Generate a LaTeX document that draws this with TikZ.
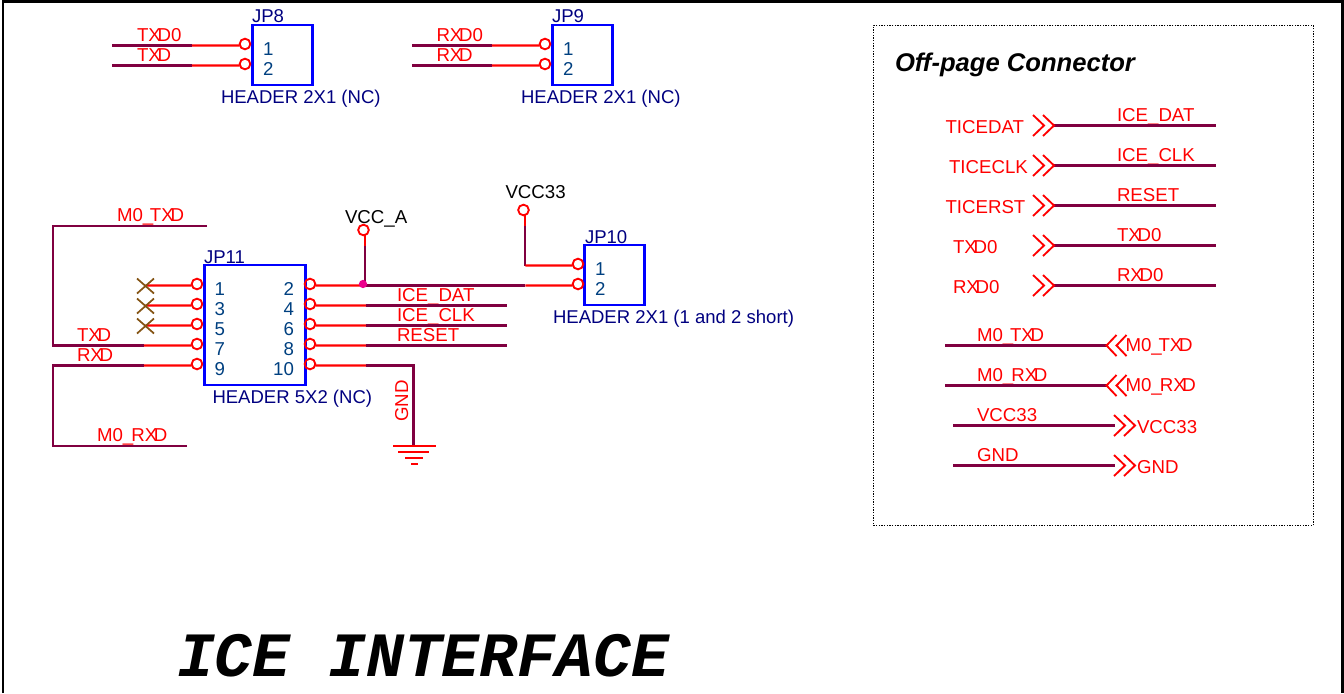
\documentclass[tikz,border=0pt]{standalone}
\usepackage{fontspec}
\usepackage{xcolor}
\setmainfont{Liberation Sans}
\newfontfamily\titlefont{Liberation Mono}
\usetikzlibrary{calc}
\definecolor{wirered}{RGB}{255, 0, 0}
\definecolor{wiredark}{RGB}{128, 0, 64}
\definecolor{partblue}{RGB}{0, 0, 255}
\definecolor{partnavy}{RGB}{0, 0, 128}
\definecolor{pinblue}{RGB}{0, 64, 128}
\definecolor{nomark}{RGB}{132, 84, 20}
\newcommand{\xd}{X\kern-2.5pt D}
\newcommand{\mtx}{M0\_\kern-2.5pt T\xd}
\newcommand{\mrx}{M0\_\kern-1.5pt R\xd}
\tikzset{
    sch/.style={font=\fontsize{14}{15}\selectfont, inner sep=0pt, outer sep=0pt, anchor=base west},
    netname/.style={sch, text=wirered},
    powername/.style={sch, text=black},
    partname/.style={sch, font=\fontsize{13.9}{15}\selectfont, text=partnavy},
    pinnum/.style={sch, text=pinblue},
    pinnumr/.style={pinnum, anchor=base east},
    partbox/.style={draw=partblue, line width=1.6pt, inner sep=0pt, outer sep=0pt, anchor=north west},
    pinhole/.style={circle, draw=wirered, line width=1.4pt, minimum size=8pt, inner sep=0pt, outer sep=0pt},
    stub/.style={draw=wirered, line width=1.6pt},
    bus/.style={draw=wiredark, line width=1.6pt},
    nc/.style={draw=nomark, line width=1.3pt},
    arrowsright/.pic={
        \draw[wirered, line width=1.4pt] (-21,-10.5) -- (-10,0) -- (-21,10.5);
        \draw[wirered, line width=1.4pt] (-11,-10.5) -- (0,0) -- (-11,10.5);
    },
    arrowsleft/.pic={
        \draw[wirered, line width=1.4pt] (10,-10.5) -- (0,0) -- (10,10.5);
        \draw[wirered, line width=1.4pt] (20,-10.5) -- (10,0) -- (20,10.5);
    },
    holeleft/.style={yshift=-1.1pt},
    holeright/.style={yshift=-1.1pt}
}

\begin{document}
\begin{tikzpicture}[x=0.75pt, y=-0.75pt]
    \useasboundingbox (0,0) rectangle (1344,693);
    % sheet frame
    \draw[black, line width=1.8pt] (3,693) -- (3,1.3) -- (1342.5,1.3) -- (1342.5,693);

    % JP8
    \node[partbox, minimum width=45pt, minimum height=45pt] (jp8box) at (252.5,25) {};
    \node[partname] (jp8name) at (252,22.5) {JP8};
    \node[partname] (jp8val) at (221,103) {HEADER 2X1 (NC)};
    \node[pinnum] (jp8n1) at (263,55) {1};
    \node[pinnum] (jp8n2) at (263,75) {2};
    \node[pinhole] (jp8a) at (245,44) {};
    \node[pinhole] (jp8b) at (245,64) {};
    \node[netname] (txdzero) at (137,41) {T\xd 0};
    \node[netname] (txdtop) at (137,61) {T\xd};
    \coordinate (jp8aend) at (112,45.5);
    \coordinate (jp8asplit) at (192,45.5);
    \coordinate (jp8bend) at (112,65.5);
    \coordinate (jp8bsplit) at (192,65.5);
    \draw[bus] (jp8aend) -- (jp8asplit);
    \draw[stub] (jp8asplit) -- ([holeleft]jp8a.west);
    \draw[bus] (jp8bend) -- (jp8bsplit);
    \draw[stub] (jp8bsplit) -- ([holeleft]jp8b.west);

    % JP9
    \node[partbox, minimum width=45pt, minimum height=45pt] (jp9box) at (552.5,25) {};
    \node[partname] (jp9name) at (552,22.5) {JP9};
    \node[partname] (jp9val) at (521,103) {HEADER 2X1 (NC)};
    \node[pinnum] (jp9n1) at (563,55) {1};
    \node[pinnum] (jp9n2) at (563,75) {2};
    \node[pinhole] (jp9a) at (545,44) {};
    \node[pinhole] (jp9b) at (545,64) {};
    \node[netname] (rxdzero) at (436.5,41) {R\xd 0};
    \node[netname] (rxdtop) at (436.5,61) {R\xd};
    \coordinate (jp9aend) at (412,45.5);
    \coordinate (jp9asplit) at (492,45.5);
    \coordinate (jp9bend) at (412,65.5);
    \coordinate (jp9bsplit) at (492,65.5);
    \draw[bus] (jp9aend) -- (jp9asplit);
    \draw[stub] (jp9asplit) -- ([holeleft]jp9a.west);
    \draw[bus] (jp9bend) -- (jp9bsplit);
    \draw[stub] (jp9bsplit) -- ([holeleft]jp9b.west);

    % JP11
    \node[partbox, minimum width=75.75pt, minimum height=90pt] (jp11box) at (204.5,265) {};
    \node[partname] (jp11name) at (204,263) {JP11};
    \node[partname] (jp11val) at (212.5,403) {HEADER 5X2 (NC)};
    \node[pinnum] (jp11n1) at (214.5,295) {1};
    \node[pinnum] (jp11n3) at (214.5,315) {3};
    \node[pinnum] (jp11n5) at (214.5,335) {5};
    \node[pinnum] (jp11n7) at (214.5,355) {7};
    \node[pinnum] (jp11n9) at (214.5,375) {9};
    \node[pinnumr] (jp11n2) at (294,295) {2};
    \node[pinnumr] (jp11n4) at (294,315) {4};
    \node[pinnumr] (jp11n6) at (294,335) {6};
    \node[pinnumr] (jp11n8) at (294,355) {8};
    \node[pinnumr] (jp11n10) at (294,375) {10};
    \node[pinhole] (pinone) at (197,284) {};
    \node[pinhole] (pinthree) at (197,304) {};
    \node[pinhole] (pinfive) at (197,324) {};
    \node[pinhole] (pinseven) at (197,344) {};
    \node[pinhole] (pinnine) at (197,364) {};
    \node[pinhole] (pintwo) at (310,284) {};
    \node[pinhole] (pinfour) at (310,304) {};
    \node[pinhole] (pinsix) at (310,324) {};
    \node[pinhole] (pineight) at (310,344) {};
    \node[pinhole] (pinten) at (310,364) {};

    % not connected pins
    \coordinate (ncone) at (145.5,285.5);
    \coordinate (ncthree) at (145.5,305.5);
    \coordinate (ncfive) at (145.5,325.5);
    \draw[stub] (ncone) -- ([holeleft]pinone.west);
    \draw[stub] (ncthree) -- ([holeleft]pinthree.west);
    \draw[stub] (ncfive) -- ([holeleft]pinfive.west);
    \draw[nc] ($(ncone)+(-8.5,-7)$) -- ($(ncone)+(8.5,8)$) ($(ncone)+(-8.5,8)$) -- ($(ncone)+(8.5,-7)$);
    \draw[nc] ($(ncthree)+(-8.5,-7)$) -- ($(ncthree)+(8.5,8)$) ($(ncthree)+(-8.5,8)$) -- ($(ncthree)+(8.5,-7)$);
    \draw[nc] ($(ncfive)+(-8.5,-7)$) -- ($(ncfive)+(8.5,8)$) ($(ncfive)+(-8.5,8)$) -- ($(ncfive)+(8.5,-7)$);

    % left side nets
    \node[netname] (mtxdtop) at (117,221.5) {\mtx};
    \node[netname] (txdlow) at (77,341) {T\xd};
    \node[netname] (rxdlow) at (77,361) {R\xd};
    \node[netname] (mrxdlow) at (97,441) {\mrx};
    \coordinate (mtxdend) at (207,226);
    \coordinate (mtxdcorner) at (53,226);
    \coordinate (txdcorner) at (53,345.5);
    \coordinate (txdsplit) at (144,345.5);
    \coordinate (rxdsplit) at (144,365.5);
    \coordinate (rxdcorner) at (53,365.5);
    \coordinate (mrxdcorner) at (53,446);
    \coordinate (mrxdend) at (187,446);
    \draw[bus] (mtxdend) -- (mtxdcorner) -- (txdcorner) -- (txdsplit);
    \draw[stub] (txdsplit) -- ([holeleft]pinseven.west);
    \draw[bus] (mrxdend) -- (mrxdcorner) -- (rxdcorner) -- (rxdsplit);
    \draw[stub] (rxdsplit) -- ([holeleft]pinnine.west);

    % right side nets
    \node[netname] (dattop) at (397,301) {ICE\_DAT};
    \node[netname] (clktop) at (397,321) {ICE\_CLK};
    \node[netname] (rsttop) at (397,341) {RESET};
    \coordinate (fourbus) at (366,305.5);
    \coordinate (fourend) at (507,305.5);
    \coordinate (sixbus) at (366,325.5);
    \coordinate (sixend) at (507,325.5);
    \coordinate (eightbus) at (366,345.5);
    \coordinate (eightend) at (507,345.5);
    \coordinate (tenbus) at (366,365.5);
    \coordinate (tencorner) at (413.5,365.5);
    \coordinate (twobus) at (364,285.5);
    \coordinate (twosplit) at (525.4,285.5);
    \draw[stub] ([holeright]pintwo.east) -- (twobus);
    \draw[stub] ([holeright]pinfour.east) -- (fourbus);
    \draw[bus] (fourbus) -- (fourend);
    \draw[stub] ([holeright]pinsix.east) -- (sixbus);
    \draw[bus] (sixbus) -- (sixend);
    \draw[stub] ([holeright]pineight.east) -- (eightbus);
    \draw[bus] (eightbus) -- (eightend);
    \draw[stub] ([holeright]pinten.east) -- (tenbus);

    % ground
    \node[netname, rotate=90, anchor=base] (gndlabel) at (408,401) {GND};
    \coordinate (gndtop) at (413.5,446);
    \coordinate (gndaa) at (393,446);
    \coordinate (gndab) at (436,446);
    \coordinate (gndba) at (398,452);
    \coordinate (gndbb) at (429,452);
    \coordinate (gndca) at (405,458);
    \coordinate (gndcb) at (423,458);
    \coordinate (gndda) at (411,464);
    \coordinate (gnddb) at (418,464);
    \draw[bus] (tenbus) -- (tencorner) -- (gndtop);
    \draw[stub, line width=1.3pt] (gndaa) -- (gndab);
    \draw[stub, line width=1.3pt] (gndba) -- (gndbb);
    \draw[stub, line width=1.3pt] (gndca) -- (gndcb);
    \draw[stub, line width=1.3pt] (gndda) -- (gnddb);

    % JP10 and the supplies
    \node[partbox, minimum width=45pt, minimum height=45pt] (jp10box) at (584.5,245) {};
    \node[partname] (jp10name) at (585,243) {JP10};
    \node[partname] (jp10val) at (553,323) {HEADER 2X1 (1 and 2 short)};
    \node[pinnum] (jp10n1) at (595,275) {1};
    \node[pinnum] (jp10n2) at (595,295) {2};
    \node[pinhole] (jp10a) at (578,264) {};
    \node[pinhole] (jp10b) at (578,284) {};
    \node[powername] (vccaname) at (345,223) {VCC\_A};
    \node[pinhole] (vcca) at (363.5,230) {};
    \node[powername] (vccname) at (505.5,198.5) {VCC33};
    \node[pinhole] (vcc) at (523.5,210) {};
    \coordinate (vccastart) at (365.4,235);
    \coordinate (vccasplit) at (365.4,246);
    \coordinate (vccajoin) at (365.4,285.5);
    \coordinate (vccstart) at (525.4,215);
    \coordinate (vccsplit) at (525.4,226);
    \coordinate (vcccorner) at (525.4,265.5);
    \draw[stub] (vccastart) -- (vccasplit);
    \draw[bus] (vccasplit) -- (vccajoin);
    \draw[stub] (vccstart) -- (vccsplit);
    \draw[bus] (vccsplit) -- (vcccorner);
    \draw[stub] (vcccorner) -- ([holeleft]jp10a.west);
    \draw[bus] (twobus) -- (twosplit);
    \draw[stub] (twosplit) -- ([holeleft]jp10b.west);
    \node[circle, fill=magenta, minimum size=6.2pt, inner sep=0pt] (join) at (363,284) {};

    % off-page connector panel
    \node[draw=black, dash pattern=on 1pt off 1pt, line width=1pt, inner sep=0pt, anchor=north west, minimum width=330pt, minimum height=375pt] (offpage) at (872.8,24.8) {};
    \node[sch, font=\fontsize{19.2}{22}\selectfont\bfseries\itshape] (offtitle) at (895,71) {Off-page Connector};

    \node[netname] (ticedat) at (945.5,133) {TICEDAT};
    \node[netname] (ticeclk) at (949,173) {TICECLK};
    \node[netname] (ticerst) at (945.5,213) {TICERST};
    \node[netname] (txdoff) at (953,253) {T\xd 0};
    \node[netname] (rxdoff) at (953,293) {R\xd 0};
    \node[netname] (datnet) at (1117,121) {ICE\_DAT};
    \node[netname] (clknet) at (1117,161) {ICE\_CLK};
    \node[netname] (rstnet) at (1117,201) {RESET};
    \node[netname] (txdnet) at (1117,241) {T\xd 0};
    \node[netname] (rxdnet) at (1117,281) {R\xd 0};
    \coordinate (dattip) at (1054,125.5);
    \coordinate (clktip) at (1054,165.5);
    \coordinate (rsttip) at (1054,205.5);
    \coordinate (txdtip) at (1054,245.5);
    \coordinate (rxdtip) at (1054,285.5);
    \coordinate (datend) at (1216,125.5);
    \coordinate (clkend) at (1216,165.5);
    \coordinate (rstend) at (1216,205.5);
    \coordinate (txdend) at (1216,245.5);
    \coordinate (rxdend) at (1216,285.5);
    \draw[bus] (dattip) -- (datend);
    \draw[bus] (clktip) -- (clkend);
    \draw[bus] (rsttip) -- (rstend);
    \draw[bus] (txdtip) -- (txdend);
    \draw[bus] (rxdtip) -- (rxdend);
    \pic at (dattip) {arrowsright};
    \pic at (clktip) {arrowsright};
    \pic at (rsttip) {arrowsright};
    \pic at (txdtip) {arrowsright};
    \pic at (rxdtip) {arrowsright};

    \node[netname] (mtxdnet) at (977,341) {\mtx};
    \node[netname] (mrxdnet) at (977,381) {\mrx};
    \node[netname] (vccnet) at (977,421) {VCC33};
    \node[netname] (gndnet) at (977,461) {GND};
    \node[netname] (mtxdoff) at (1125.5,351) {\mtx};
    \node[netname] (mrxdoff) at (1125.5,391) {\mrx};
    \node[netname] (vccoff) at (1137,433) {VCC33};
    \node[netname] (gndoff) at (1137,473) {GND};
    \coordinate (mtxdstart) at (945,345.5);
    \coordinate (mrxdstart) at (945,385.5);
    \coordinate (vccbegin) at (953,425.5);
    \coordinate (gndstart) at (953,465.5);
    \coordinate (mtxdtip) at (1106.5,345.5);
    \coordinate (mrxdtip) at (1106.5,385.5);
    \coordinate (vcctip) at (1135,425.5);
    \coordinate (gndtip) at (1135,465.5);
    \coordinate (vccstop) at (1115,425.5);
    \coordinate (gndstop) at (1115,465.5);
    \draw[bus] (mtxdstart) -- (mtxdtip);
    \draw[bus] (mrxdstart) -- (mrxdtip);
    \draw[bus] (vccbegin) -- (vccstop);
    \draw[bus] (gndstart) -- (gndstop);
    \pic at (mtxdtip) {arrowsleft};
    \pic at (mrxdtip) {arrowsleft};
    \pic at (vcctip) {arrowsright};
    \pic at (gndtip) {arrowsright};

    % sheet title
    \node[sch, font=\fontsize{47.3}{50}\selectfont\titlefont\bfseries\itshape] (sheettitle) at (177,676) {ICE INTERFACE};
\end{tikzpicture}
\end{document}
